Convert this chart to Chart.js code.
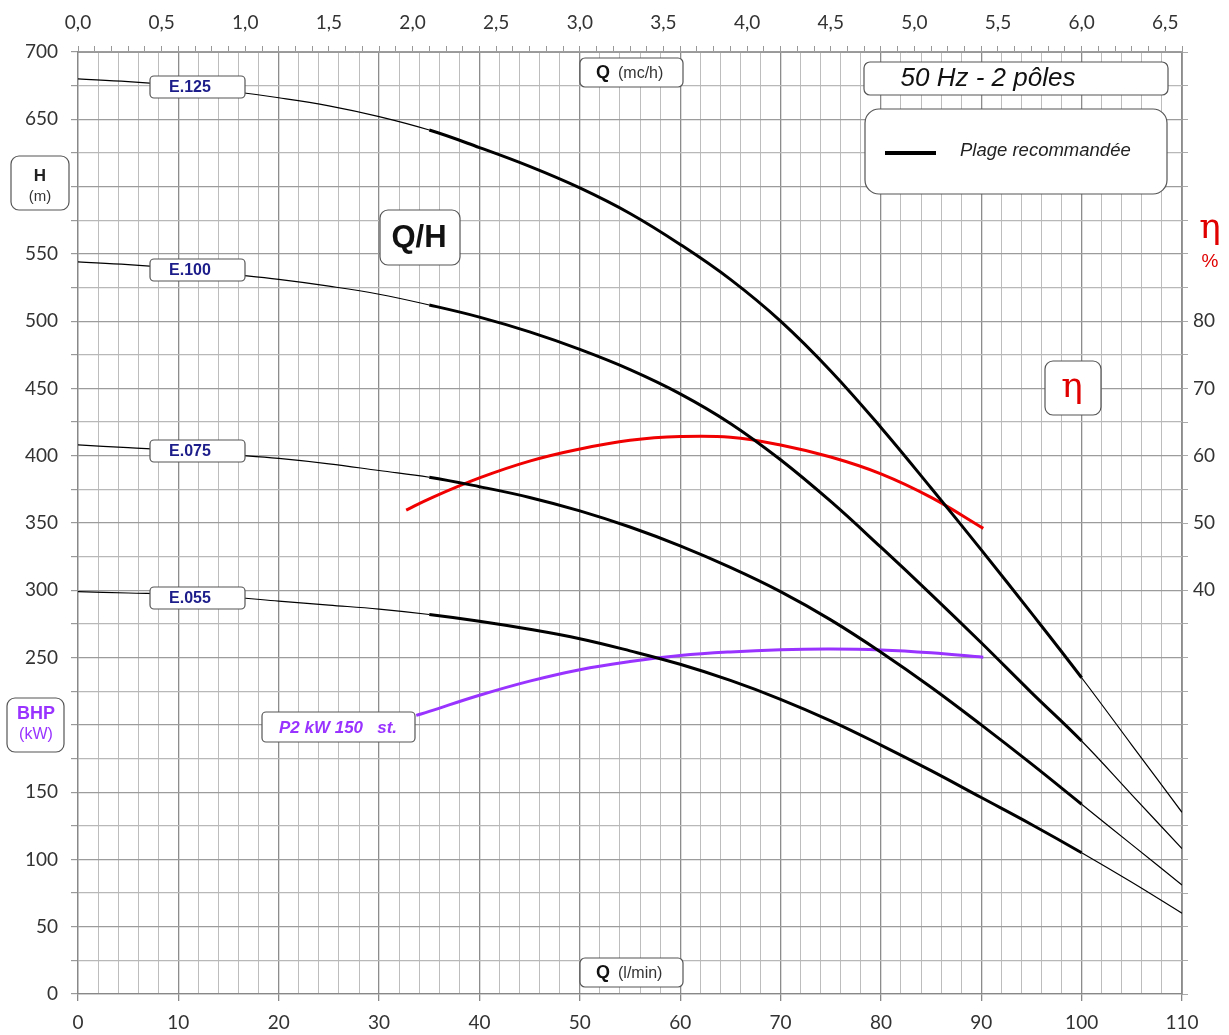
<!DOCTYPE html>
<html>
<head>
<meta charset="utf-8">
<script src="https://cdn.jsdelivr.net/npm/chart.js@4.4.0/dist/chart.umd.min.js"></script>
<style>
  html, body { margin: 0; padding: 0; background: #fff; }
  #wrap { width: 1229px; height: 1035px; position: relative; }
</style>
</head>
<body>
<div id="wrap"><canvas id="pumpChart"></canvas></div>
<script>
// ------------ data read from the curve sheet ------------
// flow in l/min
const flowLmin = [0, 5, 10, 15, 20, 25, 30, 35, 40, 45, 50, 55, 60, 65, 70, 75, 80, 85, 90, 95, 100, 105, 110];
// head in m for each pump
const headE125 = [680, 678, 675, 671, 666, 660, 652, 642, 629, 615, 599, 580, 557, 531, 500, 463, 421, 376, 330, 283, 235, 185, 135];
const headE100 = [544, 542, 539, 535, 531, 526, 520, 512, 503, 492, 479, 464, 446, 424, 397, 366, 332, 297, 261, 224, 188, 148, 108];
const headE075 = [408, 406, 404, 401, 398, 394, 389, 384, 377, 369, 359, 347, 333, 317, 299, 278, 254, 228, 200, 171, 141, 111, 81];
const headE055 = [299, 298, 297, 295, 292, 289, 286, 282, 277, 271, 264, 255, 245, 233, 219, 203, 185, 166, 146, 126, 105, 83, 60];

// efficiency in %
const etaFlow = [32.7, 35, 40, 45, 50, 55, 60, 65, 70, 75, 80, 85, 90.2];
const etaValues = [51.9, 53.6, 56.7, 59.2, 61.0, 62.3, 62.85, 62.75, 61.6, 59.8, 57.3, 53.8, 49.2];

// P2 kW curve (150 stages) - drawn on the H grid like the original sheet
const powerFlow = [33.7, 35, 40, 45, 50, 55, 60, 65, 70, 75, 80, 85, 90.2];
const powerValues = [207, 210, 222, 232.5, 241, 247, 251.5, 254.2, 255.8, 256.3, 255.6, 253.5, 250.2];

// recommended range (thick line)
const rangeStart = 35;
const rangeEnd = 100;

function toPoints(xs, ys) {
    let pts = [];
    for (let i = 0; i < xs.length; i++) {
        pts.push({ x: xs[i], y: ys[i] });
    }
    return pts;
}

function pumpDataset(label, heads) {
    return {
        label: label,
        data: toPoints(flowLmin, heads),
        borderColor: '#000',
        borderWidth: 3,
        pointRadius: 0,
        tension: 0.4,
        yAxisID: 'y',
        xAxisID: 'x',
        segment: {
            borderWidth: ctx => (ctx.p0.parsed.x >= rangeStart && ctx.p1.parsed.x <= rangeEnd) ? 3 : 1.2
        }
    };
}

const near = (v, step) => Math.abs(v / step - Math.round(v / step)) < 1e-6;

// boxes and free texts on the sheet
const boxPlugin = {
    id: 'sheetBoxes',
    afterDatasetsDraw(chart) {
        const ctx = chart.ctx;
        ctx.save();
        function box(x, y, w, h, r) {
            ctx.beginPath();
            ctx.roundRect(x, y, w, h, r);
            ctx.fillStyle = '#fff';
            ctx.fill();
            ctx.lineWidth = 1.2;
            ctx.strokeStyle = '#555';
            ctx.stroke();
        }
        function text(t, x, y, font, color, align) {
            ctx.font = font;
            ctx.fillStyle = color;
            ctx.textAlign = align || 'center';
            ctx.textBaseline = 'middle';
            ctx.fillText(t, x, y);
        }
        // pump labels
        const pumps = [['E.125', 87], ['E.100', 270], ['E.075', 451], ['E.055', 598]];
        for (const p of pumps) {
            box(150, p[1] - 11, 95, 22, 4);
            text(p[0], 190, p[1] + 1, 'bold 16px "Liberation Sans"', '#1c1c8a');
        }
        // P2 label
        box(262, 712, 153, 30, 4);
        text('P2 kW 150   st.', 338, 728, 'italic bold 17px "Liberation Sans"', '#9933ff');

        // Q/H
        box(380, 210, 80, 55, 8);
        text('Q/H', 419, 238, 'bold 31px "Liberation Sans"', '#111');

        // Q (mc/h) and Q (l/min)
        box(580, 58, 103, 29, 5);
        text('Q', 603, 73, 'bold 18px "Liberation Sans"', '#111');
        text('(mc/h)', 618, 74, '16px "Liberation Sans"', '#333', 'left');
        box(580, 958, 103, 29, 5);
        text('Q', 603, 973, 'bold 18px "Liberation Sans"', '#111');
        text('(l/min)', 618, 974, '16px "Liberation Sans"', '#333', 'left');

        // 50 Hz header
        box(864, 62, 304, 33, 6);
        text('50 Hz - 2 pôles', 988, 79, 'italic 26px "Liberation Sans"', '#111');

        // legend
        box(865, 109, 302, 85, 14);
        ctx.beginPath();
        ctx.moveTo(885, 153);
        ctx.lineTo(936, 153);
        ctx.lineWidth = 4;
        ctx.strokeStyle = '#000';
        ctx.stroke();
        text('Plage recommandée', 960, 151, 'italic 18.5px "Liberation Sans"', '#222', 'left');

        // eta box
        box(1045, 361, 56, 54, 8);
        text('η', 1072, 388, '36px "DejaVu Serif"', '#e00000');

        // axis titles
        box(11, 156, 58, 54, 8);
        text('H', 40, 176, 'bold 17px "Liberation Sans"', '#222');
        text('(m)', 40, 197, '15px "Liberation Sans"', '#333');
        box(7, 698, 57, 54, 8);
        text('BHP', 36, 714, 'bold 18px "Liberation Sans"', '#9933ff');
        text('(kW)', 36, 735, '16px "Liberation Sans"', '#9933ff');

        text('η', 1210, 229, '36px "DejaVu Serif"', '#e00000');
        text('%', 1210, 262, '19px "Liberation Sans"', '#e00000');
        ctx.restore();
    }
};

const tickFont = { family: 'Lato', size: 19 };
const tickColor = '#333';

const ctxChart = document.getElementById('pumpChart');
new Chart(ctxChart, {
    type: 'line',
    data: {
        datasets: [
            pumpDataset('E.125', headE125),
            pumpDataset('E.100', headE100),
            pumpDataset('E.075', headE075),
            pumpDataset('E.055', headE055),
            {
                label: 'η',
                data: toPoints(etaFlow, etaValues),
                borderColor: '#f00000',
                borderWidth: 3,
                pointRadius: 0,
                tension: 0.4,
                yAxisID: 'yEta',
                xAxisID: 'x'
            },
            {
                label: 'P2 kW',
                data: toPoints(powerFlow, powerValues),
                borderColor: '#9933ff',
                borderWidth: 3,
                pointRadius: 0,
                tension: 0.4,
                yAxisID: 'y',
                xAxisID: 'x'
            }
        ]
    },
    options: {
        responsive: true,
        maintainAspectRatio: false,
        animation: false,
        layout: { padding: 0 },
        plugins: {
            legend: { display: false },
            tooltip: { enabled: false }
        },
        scales: {
            x: {
                type: 'linear',
                position: 'bottom',
                min: 0,
                max: 110,
                afterFit(scale) { scale.height = 41; },
                ticks: {
                    stepSize: 2,
                    autoSkip: false,
                    maxRotation: 0,
                    padding: 10,
                    font: tickFont,
                    color: tickColor,
                    callback: v => near(v, 10) ? String(v) : ''
                },
                grid: {
                    color: c => near(c.tick.value, 10) ? '#8c8c8c' : '#bdbdbd',
                    lineWidth: c => near(c.tick.value, 10) ? 1.3 : 1,
                    tickLength: 7,
                    tickColor: c => near(c.tick.value, 10) ? '#888' : 'rgba(0,0,0,0)'
                },
                border: { color: '#888', width: 1.3 }
            },
            xTop: {
                type: 'linear',
                position: 'top',
                min: 0,
                max: 6.6,
                afterFit(scale) { scale.height = 52; },
                ticks: {
                    stepSize: 0.1,
                    autoSkip: false,
                    maxRotation: 0,
                    padding: 12,
                    font: tickFont,
                    color: tickColor,
                    callback: v => near(v, 0.5) ? v.toFixed(1).replace('.', ',') : ''
                },
                grid: {
                    drawOnChartArea: false,
                    tickLength: 6,
                    tickColor: '#999'
                },
                border: { color: '#999' }
            },
            y: {
                type: 'linear',
                position: 'left',
                min: 0,
                max: 700,
                afterFit(scale) { scale.width = 78; },
                ticks: {
                    stepSize: 25,
                    autoSkip: false,
                    padding: 13,
                    font: tickFont,
                    color: tickColor,
                    callback: v => near(v, 50) ? String(v) : ''
                },
                grid: {
                    color: c => near(c.tick.value, 50) ? '#9c9c9c' : '#b8b8b8',
                    lineWidth: 1.2,
                    tickLength: 7,
                    tickColor: '#999'
                },
                border: { color: '#888', width: 1.3 }
            },
            yEta: {
                type: 'linear',
                position: 'right',
                min: -20,
                max: 120,
                afterFit(scale) { scale.width = 47; },
                ticks: {
                    stepSize: 5,
                    autoSkip: false,
                    padding: 5,
                    font: tickFont,
                    color: tickColor,
                    callback: v => (near(v, 10) && v >= 40 && v <= 80) ? String(v) : ''
                },
                grid: {
                    drawOnChartArea: false,
                    tickLength: 6,
                    tickColor: '#aaa'
                },
                border: { color: '#999' }
            }
        }
    },
    plugins: [boxPlugin]
});
</script>
</body>
</html>
